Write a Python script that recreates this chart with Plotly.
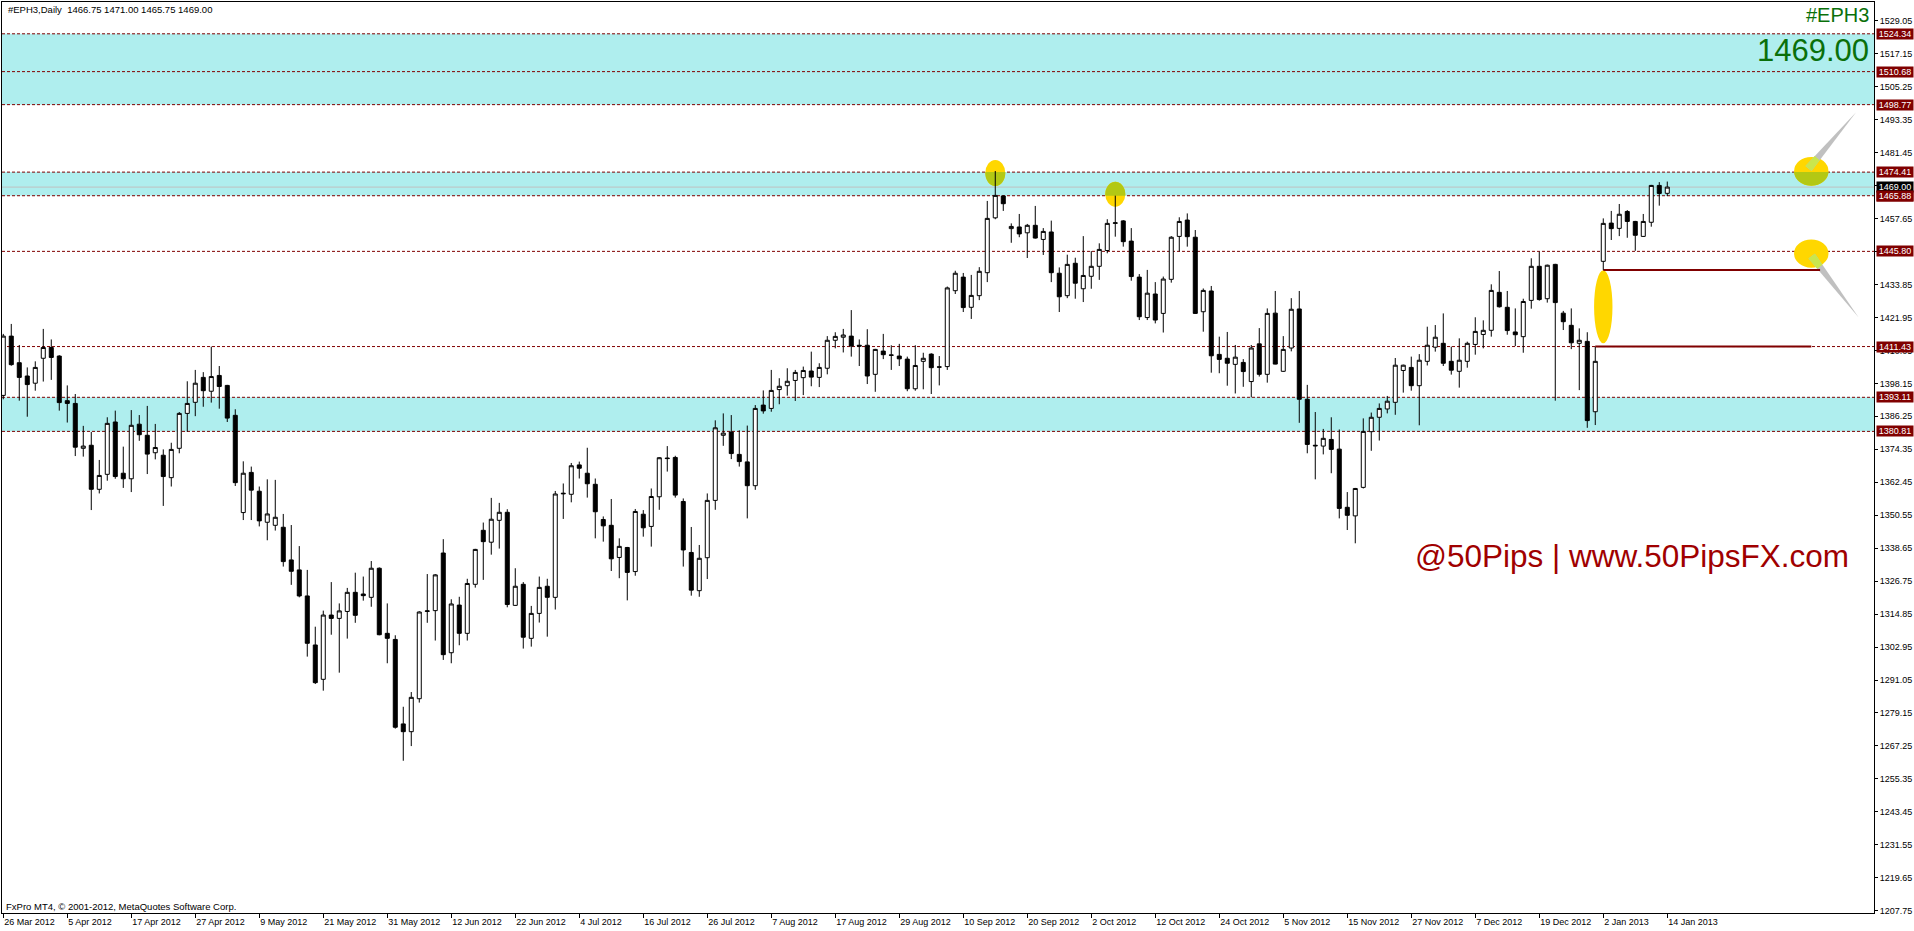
import numpy as np
import plotly.graph_objects as go

# ---------------- data ----------------
OPEN = [1393.8, 1415.2, 1405.6, 1400.8, 1398.2, 1407.2, 1411.1, 1408.0, 1391.9, 1390.9,
        1374.7, 1375.8, 1359.9, 1365.3, 1384.2, 1365.7, 1363.7, 1383.4, 1379.4, 1373.1,
        1372.2, 1364.1, 1374.7, 1387.3, 1391.3, 1400.3, 1395.3, 1401.0, 1397.4, 1386.6,
        1351.5, 1366.0, 1359.2, 1348.0, 1346.9, 1346.2, 1334.4, 1330.8, 1321.4, 1303.7,
        1291.3, 1314.5, 1313.3, 1315.8, 1322.7, 1322.1, 1320.9, 1331.4, 1307.9, 1305.7,
        1275.2, 1272.4, 1284.3, 1315.8, 1316.1, 1336.9, 1300.9, 1318.1, 1307.9, 1325.6,
        1345.1, 1340.8, 1348.7, 1351.6, 1318.0, 1325.6, 1306.1, 1315.1, 1324.9, 1320.9,
        1358.5, 1358.1, 1368.7, 1365.7, 1361.7, 1349.0, 1346.9, 1335.3, 1338.9, 1330.2,
        1350.9, 1346.5, 1357.2, 1371.2, 1371.4, 1355.5, 1337.1, 1323.3, 1335.2, 1355.9,
        1379.4, 1380.6, 1372.5, 1369.8, 1361.2, 1390.3, 1389.1, 1395.9, 1397.3, 1399.2,
        1400.2, 1402.6, 1400.3, 1403.6, 1413.7, 1414.8, 1415.2, 1411.9, 1411.9, 1401.4,
        1409.8, 1408.4, 1408.0, 1406.9, 1396.2, 1406.1, 1408.7, 1404.1, 1404.2, 1431.6,
        1436.5, 1425.6, 1429.8, 1438.1, 1457.9, 1465.8, 1454.0, 1454.6, 1452.5, 1455.2,
        1450.1, 1452.8, 1437.9, 1429.8, 1441.5, 1432.3, 1436.8, 1440.4, 1446.1, 1455.9,
        1456.8, 1449.5, 1436.5, 1421.9, 1430.4, 1423.4, 1435.7, 1451.2, 1457.1, 1450.9,
        1424.0, 1431.5, 1408.6, 1407.2, 1405.0, 1405.7, 1398.8, 1412.4, 1401.4, 1423.5,
        1402.5, 1410.9, 1425.0, 1392.4, 1375.8, 1375.5, 1377.9, 1374.4, 1353.4, 1350.3,
        1360.6, 1380.7, 1385.9, 1388.9, 1391.3, 1402.8, 1403.9, 1397.3, 1406.1, 1411.2,
        1412.6, 1406.1, 1402.5, 1406.1, 1412.2, 1415.8, 1417.3, 1431.0, 1425.6, 1416.7,
        1415.0, 1428.1, 1440.4, 1428.7, 1441.1, 1423.5, 1419.1, 1412.6, 1413.3, 1387.9,
        1442.2, 1456.0, 1454.1, 1460.2, 1456.6, 1451.2, 1456.3, 1469.6, 1466.75]
HIGH = [1416.0, 1419.6, 1412.0, 1403.9, 1406.1, 1417.8, 1414.0, 1408.3, 1397.4, 1394.3,
        1382.8, 1380.6, 1370.5, 1385.9, 1388.3, 1375.3, 1388.5, 1386.7, 1390.0, 1383.5,
        1374.3, 1376.7, 1387.8, 1398.9, 1403.0, 1402.2, 1411.4, 1404.4, 1397.6, 1388.8,
        1370.0, 1368.1, 1360.9, 1363.5, 1363.3, 1351.0, 1347.0, 1339.4, 1330.8, 1310.3,
        1316.1, 1326.4, 1318.7, 1324.3, 1329.8, 1328.4, 1334.0, 1331.7, 1318.7, 1307.2,
        1281.4, 1286.7, 1315.9, 1329.3, 1329.3, 1341.9, 1320.2, 1321.1, 1327.6, 1338.4,
        1347.9, 1356.8, 1355.0, 1352.7, 1331.4, 1326.4, 1317.8, 1328.4, 1327.6, 1359.3,
        1362.0, 1369.4, 1369.9, 1374.9, 1363.8, 1350.1, 1356.4, 1342.2, 1339.1, 1352.8,
        1352.4, 1360.2, 1371.5, 1375.5, 1372.0, 1356.6, 1346.3, 1339.8, 1358.4, 1384.8,
        1387.3, 1386.7, 1381.2, 1382.9, 1390.3, 1395.6, 1403.0, 1400.0, 1403.6, 1403.0,
        1404.2, 1409.6, 1405.4, 1415.2, 1416.6, 1417.8, 1424.6, 1414.0, 1417.7, 1410.6,
        1416.0, 1411.9, 1412.4, 1407.8, 1411.9, 1409.2, 1409.0, 1408.0, 1433.1, 1438.8,
        1438.0, 1437.3, 1440.1, 1464.0, 1474.8, 1466.0, 1455.9, 1459.3, 1455.7, 1462.2,
        1454.2, 1456.9, 1440.0, 1444.6, 1443.5, 1451.3, 1445.9, 1448.7, 1457.4, 1465.9,
        1457.1, 1454.2, 1437.6, 1439.1, 1434.7, 1436.7, 1451.3, 1458.1, 1459.5, 1453.5,
        1432.4, 1433.3, 1415.0, 1416.7, 1412.0, 1406.9, 1412.0, 1418.1, 1425.2, 1431.5,
        1415.2, 1428.9, 1431.5, 1397.6, 1387.8, 1381.7, 1385.9, 1381.5, 1358.9, 1360.4,
        1385.5, 1387.6, 1390.9, 1393.6, 1407.3, 1404.9, 1407.8, 1408.7, 1418.6, 1419.2,
        1423.4, 1411.4, 1414.4, 1413.2, 1422.0, 1420.9, 1433.9, 1438.7, 1431.5, 1425.2,
        1428.7, 1443.3, 1445.7, 1441.0, 1441.3, 1424.3, 1425.2, 1418.0, 1416.6, 1411.4,
        1457.7, 1460.4, 1462.9, 1460.7, 1456.8, 1459.3, 1469.8, 1470.8, 1471.00]
LOW = [1392.4, 1404.5, 1391.9, 1386.1, 1395.5, 1398.8, 1399.4, 1388.3, 1384.0, 1371.9,
       1371.7, 1352.4, 1358.4, 1363.0, 1363.7, 1360.4, 1358.9, 1377.4, 1365.4, 1370.7,
       1353.9, 1360.9, 1372.9, 1380.7, 1386.3, 1389.7, 1391.2, 1389.0, 1384.2, 1361.1,
       1348.8, 1348.8, 1346.5, 1341.5, 1345.0, 1332.0, 1325.4, 1320.9, 1299.5, 1289.6,
       1287.2, 1307.4, 1293.7, 1306.0, 1311.7, 1319.7, 1317.5, 1307.2, 1297.1, 1273.5,
       1261.9, 1267.2, 1282.9, 1311.7, 1305.3, 1298.3, 1297.1, 1303.6, 1305.3, 1324.4,
       1327.2, 1336.3, 1338.5, 1317.3, 1317.8, 1302.4, 1303.1, 1311.8, 1306.7, 1316.5,
       1349.2, 1355.2, 1363.8, 1356.9, 1342.2, 1341.0, 1330.4, 1327.8, 1319.8, 1328.7,
       1342.8, 1339.2, 1352.5, 1366.3, 1356.9, 1332.0, 1321.5, 1321.1, 1327.5, 1352.5,
       1375.6, 1370.8, 1368.1, 1349.4, 1359.7, 1387.2, 1387.9, 1390.6, 1393.7, 1391.8,
       1393.9, 1397.1, 1396.8, 1401.4, 1410.8, 1409.3, 1407.8, 1404.4, 1397.9, 1395.1,
       1406.9, 1403.0, 1404.4, 1395.3, 1395.5, 1396.0, 1394.3, 1397.4, 1403.0, 1430.4,
       1423.9, 1421.4, 1428.2, 1434.7, 1457.4, 1460.4, 1448.9, 1450.9, 1443.4, 1450.4,
       1444.5, 1434.7, 1423.9, 1428.9, 1428.7, 1427.5, 1432.3, 1435.5, 1445.1, 1451.1,
       1447.5, 1435.2, 1421.0, 1421.0, 1419.8, 1416.5, 1434.5, 1445.8, 1447.5, 1423.2,
       1416.8, 1402.0, 1401.8, 1397.3, 1394.5, 1396.9, 1393.1, 1400.6, 1398.4, 1405.0,
       1402.3, 1409.7, 1383.9, 1372.9, 1363.5, 1372.5, 1365.7, 1349.4, 1345.2, 1340.4,
       1360.2, 1373.8, 1377.5, 1387.3, 1386.8, 1394.8, 1395.5, 1383.0, 1404.6, 1409.6,
       1404.4, 1401.3, 1396.6, 1403.8, 1408.5, 1410.8, 1415.0, 1425.5, 1415.7, 1411.6,
       1409.2, 1425.1, 1428.0, 1427.3, 1391.9, 1417.4, 1410.5, 1395.7, 1382.1, 1383.1,
       1439.1, 1449.9, 1451.3, 1450.7, 1446.0, 1451.0, 1454.7, 1462.3, 1465.75]
CLOSE = [1415.2, 1404.9, 1400.3, 1397.7, 1403.9, 1411.1, 1407.5, 1391.2, 1390.9, 1375.1,
         1375.5, 1359.9, 1364.9, 1383.7, 1364.5, 1363.7, 1383.0, 1379.6, 1372.6, 1375.0,
         1364.5, 1374.3, 1387.3, 1390.9, 1398.2, 1395.5, 1400.6, 1397.0, 1385.6, 1362.3,
         1365.7, 1359.6, 1348.5, 1351.0, 1349.8, 1333.8, 1330.3, 1321.4, 1304.3, 1290.1,
         1314.5, 1313.3, 1316.0, 1322.7, 1314.4, 1321.5, 1331.4, 1307.4, 1306.1, 1274.0,
         1272.4, 1284.8, 1315.6, 1316.0, 1329.0, 1300.2, 1318.5, 1307.9, 1325.9, 1338.2,
         1341.0, 1349.1, 1351.6, 1318.3, 1324.9, 1306.5, 1315.1, 1324.5, 1320.9, 1358.2,
         1358.3, 1368.4, 1367.5, 1361.9, 1351.8, 1346.7, 1334.8, 1339.3, 1329.9, 1351.9,
         1346.0, 1357.3, 1371.3, 1371.0, 1357.8, 1338.0, 1323.5, 1335.0, 1355.9, 1382.1,
         1380.2, 1372.8, 1369.9, 1361.2, 1389.1, 1388.2, 1395.6, 1397.1, 1398.9, 1402.1,
         1402.8, 1400.4, 1403.9, 1413.7, 1415.1, 1415.6, 1411.6, 1411.6, 1400.8, 1410.4,
         1408.5, 1408.3, 1407.0, 1396.2, 1404.6, 1407.2, 1403.8, 1404.0, 1432.6, 1437.9,
         1425.5, 1429.9, 1438.6, 1457.7, 1466.0, 1463.0, 1454.8, 1452.1, 1455.2, 1450.6,
         1453.0, 1438.1, 1429.4, 1441.1, 1434.3, 1437.1, 1440.4, 1446.5, 1455.9, 1456.1,
         1449.3, 1436.7, 1422.2, 1430.7, 1421.0, 1435.8, 1450.9, 1456.6, 1451.1, 1423.4,
         1431.7, 1408.1, 1406.8, 1405.4, 1407.6, 1402.4, 1410.9, 1401.4, 1423.4, 1405.1,
         1410.4, 1424.9, 1392.4, 1376.1, 1375.6, 1378.3, 1374.3, 1353.0, 1350.5, 1360.2,
         1380.8, 1385.9, 1389.1, 1391.7, 1404.7, 1404.7, 1397.3, 1406.5, 1411.9, 1414.8,
         1405.4, 1402.9, 1406.5, 1412.6, 1416.9, 1417.3, 1431.7, 1425.8, 1417.2, 1415.7,
         1427.7, 1440.4, 1428.4, 1440.8, 1427.3, 1420.4, 1412.8, 1413.7, 1384.7, 1406.1,
         1455.9, 1454.0, 1459.2, 1456.6, 1451.6, 1456.6, 1469.6, 1466.7, 1469.00]

DATE_LABELS = ["26 Mar 2012", "5 Apr 2012", "17 Apr 2012", "27 Apr 2012", "9 May 2012",
               "21 May 2012", "31 May 2012", "12 Jun 2012", "22 Jun 2012", "4 Jul 2012",
               "16 Jul 2012", "26 Jul 2012", "7 Aug 2012", "17 Aug 2012", "29 Aug 2012",
               "10 Sep 2012", "20 Sep 2012", "2 Oct 2012", "12 Oct 2012", "24 Oct 2012",
               "5 Nov 2012", "15 Nov 2012", "27 Nov 2012", "7 Dec 2012", "19 Dec 2012",
               "2 Jan 2013", "14 Jan 2013"]
BARS_PER_LABEL = 8

Y_TICKS = [1529.05, 1517.15, 1505.25, 1493.35, 1481.45, 1469.55, 1457.65, 1445.75,
           1433.85, 1421.95, 1410.05, 1398.15, 1386.25, 1374.35, 1362.45, 1350.55,
           1338.65, 1326.75, 1314.85, 1302.95, 1291.05, 1279.15, 1267.25, 1255.35,
           1243.45, 1231.55, 1219.65, 1207.75]

LEVELS = [1524.34, 1510.68, 1498.77, 1474.41, 1465.88, 1445.80, 1411.43, 1393.11, 1380.81]
BANDS = [(1498.77, 1524.34), (1465.88, 1474.41), (1380.81, 1393.11)]
LAST_PRICE = 1469.00
SYMBOL = "#EPH3"
HEADER = "#EPH3,Daily  1466.75 1471.00 1465.75 1469.00"
FOOTER = "FxPro MT4, \u00a9 2001-2012, MetaQuotes Software Corp."
BRAND = "@50Pips | www.50PipsFX.com"

# gap lines: (start bar, price, end bar)
GAP_LINES = [(200, 1439.1, 227.1), (199, 1411.43, 226.0)]
# ellipses: (center bar, center price, half width in bars, half height in points)
ELLIPSES = [(124.0, 1474.1, 1.25, 4.7), (139.0, 1466.4, 1.25, 4.5),
            (200.0, 1425.8, 1.15, 13.2), (226.0, 1474.7, 2.15, 5.2),
            (226.0, 1445.0, 2.15, 5.1)]
# wedges: (base bar, base price, tip bar, tip price)
WEDGES = [(225.65, 1475.7, 231.6, 1496.0), (226.05, 1444.1, 231.9, 1422.0)]

# ---------------- geometry ----------------
W, H = 1914, 931
ML, MR, MT, MB = 2, 40, 2, 18
PW, PH = W - ML - MR, H - MT - MB
X_RANGE = [-0.16, 233.84]
Y_RANGE = [1206.94, 1535.82]
PXB = PW / (X_RANGE[1] - X_RANGE[0])
PXP = PH / (Y_RANGE[1] - Y_RANGE[0])

MAROON = "#800000"
CYAN = "#AFEEEE"
YELLOW = "#FFD700"
OLIVE = "#B3C814"
LIME = "#C9E64E"
GREEN = "#0A700A"
FONT = "Liberation Sans, Arial, sans-serif"


def paper_x(px):
    return (px - ML) / PW


def paper_y(py):
    return 1 - (py - MT) / PH


bars = list(range(len(OPEN)))

fig = go.Figure()
fig.add_trace(go.Candlestick(
    x=bars, open=OPEN, high=HIGH, low=LOW, close=CLOSE,
    increasing=dict(line=dict(color="black", width=1), fillcolor="white"),
    decreasing=dict(line=dict(color="black", width=1), fillcolor="black"),
    whiskerwidth=0, showlegend=False, hoverinfo="skip"))

shapes = []
for lo, hi in BANDS:
    shapes.append(dict(type="rect", xref="paper", x0=0, x1=1, yref="y", y0=lo, y1=hi,
                       fillcolor=CYAN, line=dict(width=0), layer="below"))
shapes.append(dict(type="line", xref="paper", x0=0, x1=1, yref="y", y0=LAST_PRICE, y1=LAST_PRICE,
                   line=dict(color="#C0C0C0", width=1), layer="below"))
for lv in LEVELS:
    shapes.append(dict(type="line", xref="paper", x0=0, x1=1, yref="y", y0=lv, y1=lv,
                       line=dict(color=MAROON, width=1, dash="3px,2px"), layer="below"))


def ellipse_part(xc, yc, rx, ry, lo, hi, n=40):
    y0, y1 = max(lo, yc - ry), min(hi, yc + ry)
    if y1 <= y0:
        return None
    ys = np.linspace(y0, y1, n)
    w = rx * np.sqrt(np.clip(1 - ((ys - yc) / ry) ** 2, 0, None))
    pts = [(xc - a, b) for a, b in zip(w, ys)] + [(xc + a, b) for a, b in zip(w[::-1], ys[::-1])]
    return "M " + " L ".join(f"{a:.4f},{b:.4f}" for a, b in pts) + " Z"


for xc, yc, rx, ry in ELLIPSES:
    shapes.append(dict(type="circle", xref="x", yref="y", x0=xc - rx, x1=xc + rx,
                       y0=yc - ry, y1=yc + ry, fillcolor=YELLOW, line=dict(width=0), layer="below"))
    for lo, hi in BANDS:
        p = ellipse_part(xc, yc, rx, ry, lo, hi)
        if p:
            shapes.append(dict(type="path", xref="x", yref="y", path=p, fillcolor=OLIVE,
                               line=dict(width=0), layer="below"))


def to_data(k0, p0, dx, dy):
    return k0 + dx / PXB, p0 - dy / PXP


def wedge_paths(bk, bp, tk, tp, hw=4.0, inner=13.5):
    dx, dy = (tk - bk) * PXB, -(tp - bp) * PXP
    L = np.hypot(dx, dy)
    ux, uy = dx / L, dy / L
    nx, ny = -uy, ux
    b1 = to_data(bk, bp, nx * hw, ny * hw)
    b2 = to_data(bk, bp, -nx * hw, -ny * hw)
    full = f"M {b1[0]:.4f},{b1[1]:.4f} L {tk:.4f},{tp:.4f} L {b2[0]:.4f},{b2[1]:.4f} Z"
    h2 = hw * (1 - inner / L)
    m1 = to_data(bk, bp, ux * inner + nx * h2, uy * inner + ny * h2)
    m2 = to_data(bk, bp, ux * inner - nx * h2, uy * inner - ny * h2)
    part = (f"M {b1[0]:.4f},{b1[1]:.4f} L {m1[0]:.4f},{m1[1]:.4f} "
            f"L {m2[0]:.4f},{m2[1]:.4f} L {b2[0]:.4f},{b2[1]:.4f} Z")
    return full, part


for bk, bp, tk, tp in WEDGES:
    full, part = wedge_paths(bk, bp, tk, tp)
    shapes.append(dict(type="path", xref="x", yref="y", path=full, fillcolor="#C0C0C0",
                       line=dict(width=0), layer="below"))
    shapes.append(dict(type="path", xref="x", yref="y", path=part, fillcolor=LIME,
                       line=dict(width=0), layer="below"))

for k0, price, k1 in GAP_LINES:
    shapes.append(dict(type="line", xref="x", yref="y", x0=k0, x1=k1, y0=price, y1=price,
                       line=dict(color=MAROON, width=2), layer="below"))

annotations = []
for lv in LEVELS:
    annotations.append(dict(x=paper_x(1876), xref="paper", xanchor="left", y=lv, yref="y",
                            yanchor="middle", text=f"{lv:.2f}", showarrow=False,
                            font=dict(family=FONT, size=9, color="white"),
                            bgcolor=MAROON, borderpad=0, width=36, align="center"))
annotations.append(dict(x=paper_x(1876), xref="paper", xanchor="left", y=LAST_PRICE, yref="y",
                        yanchor="middle", text=f"{LAST_PRICE:.2f}", showarrow=False,
                        font=dict(family=FONT, size=9, color="white"),
                        bgcolor="black", borderpad=0, width=36, align="center"))
# re-draw the level boxes that overlap the last-price box so they sit on top (as in MT4)
annotations.append(dict(x=paper_x(1876), xref="paper", xanchor="left", y=1465.88, yref="y",
                        yanchor="middle", text="1465.88", showarrow=False,
                        font=dict(family=FONT, size=9, color="white"),
                        bgcolor=MAROON, borderpad=0, width=36, align="center"))

annotations += [
    dict(x=paper_x(1871), y=paper_y(15), xref="paper", yref="paper", xanchor="right",
         yanchor="middle", text=SYMBOL, showarrow=False,
         font=dict(family=FONT, size=20, color=GREEN)),
    dict(x=paper_x(1871), y=paper_y(51), xref="paper", yref="paper", xanchor="right",
         yanchor="middle", text=f"{LAST_PRICE:.2f}", showarrow=False,
         font=dict(family=FONT, size=31, color=GREEN)),
    dict(x=paper_x(1413), y=paper_y(556), xref="paper", yref="paper", xanchor="left",
         yanchor="middle", text=BRAND, showarrow=False,
         font=dict(family=FONT, size=31.5, color="#A00000")),
    dict(x=paper_x(6), y=paper_y(10), xref="paper", yref="paper", xanchor="left",
         yanchor="middle", text=HEADER, showarrow=False,
         font=dict(family=FONT, size=9.5, color="black")),
    dict(x=paper_x(4), y=paper_y(906), xref="paper", yref="paper", xanchor="left",
         yanchor="middle", text=FOOTER, showarrow=False,
         font=dict(family=FONT, size=9.5, color="black")),
]

fig.update_layout(
    width=W, height=H,
    margin=dict(l=ML, r=MR, t=MT, b=MB, pad=0),
    paper_bgcolor="white", plot_bgcolor="white",
    showlegend=False, boxgap=0.5, boxgroupgap=0,
    shapes=shapes, annotations=annotations,
    xaxis=dict(range=X_RANGE, rangeslider=dict(visible=False), showgrid=False, zeroline=False,
               showline=True, linecolor="black", linewidth=1, mirror=True,
               tickmode="array", tickvals=[i * BARS_PER_LABEL for i in range(len(DATE_LABELS))],
               ticktext=DATE_LABELS, ticks="outside", ticklen=4, tickcolor="black",
               ticklabelposition="outside right",
               tickfont=dict(family=FONT, size=9, color="black")),
    yaxis=dict(range=Y_RANGE, side="right", showgrid=False, zeroline=False,
               showline=True, linecolor="black", linewidth=1, mirror=True,
               tickmode="array", tickvals=Y_TICKS, ticktext=[f"{v:.2f}" for v in Y_TICKS],
               ticks="outside", ticklen=3, tickcolor="black",
               tickfont=dict(family=FONT, size=9, color="black")),
)

fig.write_html("out.html", config={"displayModeBar": False},
               post_script="document.body.style.margin='0';document.body.style.overflow='hidden';")
